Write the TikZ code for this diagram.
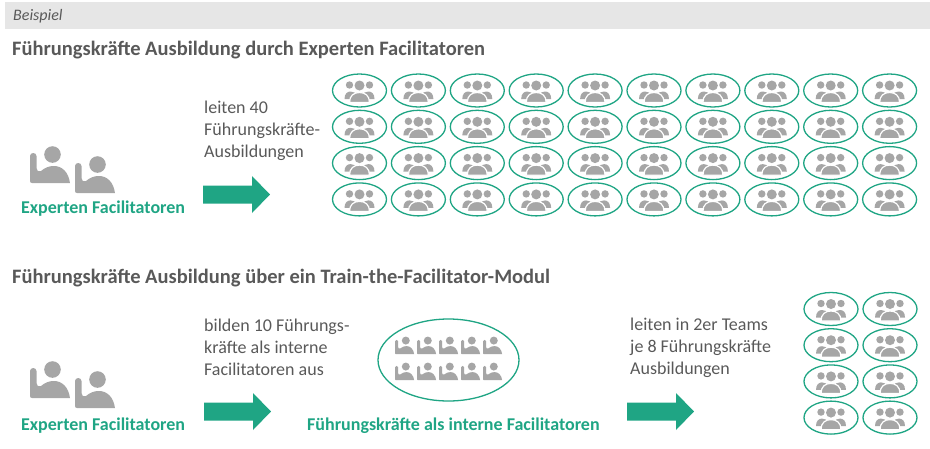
\documentclass[tikz,border=0pt]{standalone}
\usepackage{fontspec}
\usetikzlibrary{shapes.geometric}
\setmainfont{Carlito}
\definecolor{grn}{HTML}{1FA584}
\definecolor{txt}{HTML}{595959}
\definecolor{ico}{HTML}{A6A6A6}
\definecolor{barc}{HTML}{E6E6E6}
\tikzset{
  ttl/.style={anchor=base west, inner sep=0pt, text=txt, font=\fontsize{20.5}{24}\selectfont\bfseries},
  bodytxt/.style={anchor=base west, inner sep=0pt, text=txt, font=\fontsize{18}{22}\selectfont},
  lab/.style={anchor=base west, inner sep=0pt, text=grn, font=\fontsize{18}{22}\selectfont\bfseries},
  grpell/.style={ellipse, draw=grn, line width=1.3pt, fill=white, minimum width=54pt, minimum height=33pt, inner sep=0pt},
  bigell/.style={ellipse, draw=grn, line width=1.3pt, fill=white, minimum width=141pt, minimum height=82pt, inner sep=0pt},
  seated/.pic={
    \fill[ico] (22.5,9.5) circle[radius=8.3];
    \fill[ico] (0,36) -- (0,11) .. controls (0,9.3) and (1.4,8) .. (3.25,8)
      .. controls (5.1,8) and (6.5,9.3) .. (6.5,11) -- (6.5,23)
      .. controls (6.5,25.5) and (8,26.8) .. (11,26)
      .. controls (15,22.5) and (19,21) .. (24,21)
      .. controls (32,21) and (38.5,27) .. (40,38) -- (2,38)
      .. controls (0.8,38) and (0,37.2) .. (0,36) -- cycle;
  },
  grp/.pic={
    \fill[ico] (-15,8.5) .. controls (-15,3) and (-12,1) .. (-9,1) .. controls (-6,1) and (-4,2.5) .. (-3,4) -- (-3,8.5) -- cycle;
    \fill[ico] (15,8.5) .. controls (15,3) and (12,1) .. (9,1) .. controls (6,1) and (4,2.5) .. (3,4) -- (3,8.5) -- cycle;
    \filldraw[fill=ico, draw=white, line width=1.2pt] (-10,12) .. controls (-10,5) and (-5.5,2) .. (0,2) .. controls (5.5,2) and (10,5) .. (10,12) -- cycle;
    \fill[ico] (0,-5) circle[radius=5];
    \fill[ico] (-10,-5.5) circle[radius=3.7];
    \fill[ico] (10,-5.5) circle[radius=3.7];
  },
  blockarrow/.pic={
    \fill[grn] (0,-9) -- (49,-9) -- (49,-18.5) -- (67,0) -- (49,18.5) -- (49,9) -- (0,9) -- cycle;
  }
}
\begin{document}
\begin{tikzpicture}[x=1pt,y=-1pt]
\useasboundingbox (0,0) rectangle (930,448);
\fill[barc] (5,2) rectangle (930,29);
\node[anchor=base west, inner sep=0pt, text=txt, font=\fontsize{16}{19}\selectfont\itshape] (beispiel) at (13,20.5) {Beispiel};
% section 1
\node[ttl] (title1) at (12,55.5) {Führungskräfte Ausbildung durch Experten Facilitatoren};
\pic at (30,145) {seated};
\pic at (75,155) {seated};
\node[lab] (exp1) at (21,213) {Experten Facilitatoren};
\node[bodytxt] (t1a) at (204,113) {leiten 40};
\node[bodytxt] (t1b) at (204,135) {Führungskräfte-};
\node[bodytxt] (t1c) at (204,157) {Ausbildungen};
\pic at (203,194.5) {blockarrow};
\foreach \r in {0,...,3}{
  \foreach \c in {0,...,9}{
    \pgfmathsetmacro{\xx}{359.5+58.9*\c}
    \pgfmathsetmacro{\yy}{90.5+36.3*\r}
    \node[grpell] (g-\r-\c) at (\xx,\yy) {};
    \pic at (\xx,\yy) {grp};
  }
}
% section 2
\node[ttl] (title2) at (12,283.5) {Führungskräfte Ausbildung über ein Train-the-Facilitator-Modul};
\pic at (30,360) {seated};
\pic at (75,370) {seated};
\node[lab] (exp2) at (21,430) {Experten Facilitatoren};
\node[bodytxt] (t2a) at (204,331) {bilden 10 Führungs-};
\node[bodytxt] (t2b) at (204,353) {kräfte als interne};
\node[bodytxt] (t2c) at (204,375) {Facilitatoren aus};
\pic at (204,411.5) {blockarrow};
\node[bigell] (big) at (448.5,360) {};
\foreach \r in {0,1}{
  \foreach \c in {0,...,4}{
    \pic[scale=0.48] at (395+22*\c,336+26*\r) {seated};
  }
}
\node[lab] (intf) at (307,430) {Führungskräfte als interne Facilitatoren};
\node[bodytxt] (t3a) at (630,330) {leiten in 2er Teams};
\node[bodytxt] (t3b) at (630,352) {je 8 Führungskräfte};
\node[bodytxt] (t3c) at (630,374) {Ausbildungen};
\pic at (627,411.5) {blockarrow};
\foreach \r in {0,...,3}{
  \foreach \c in {0,1}{
    \pgfmathsetmacro{\xx}{831+59*\c}
    \pgfmathsetmacro{\yy}{309+36.2*\r}
    \node[grpell] (h-\r-\c) at (\xx,\yy) {};
    \pic at (\xx,\yy) {grp};
  }
}
\end{tikzpicture}
\end{document}
